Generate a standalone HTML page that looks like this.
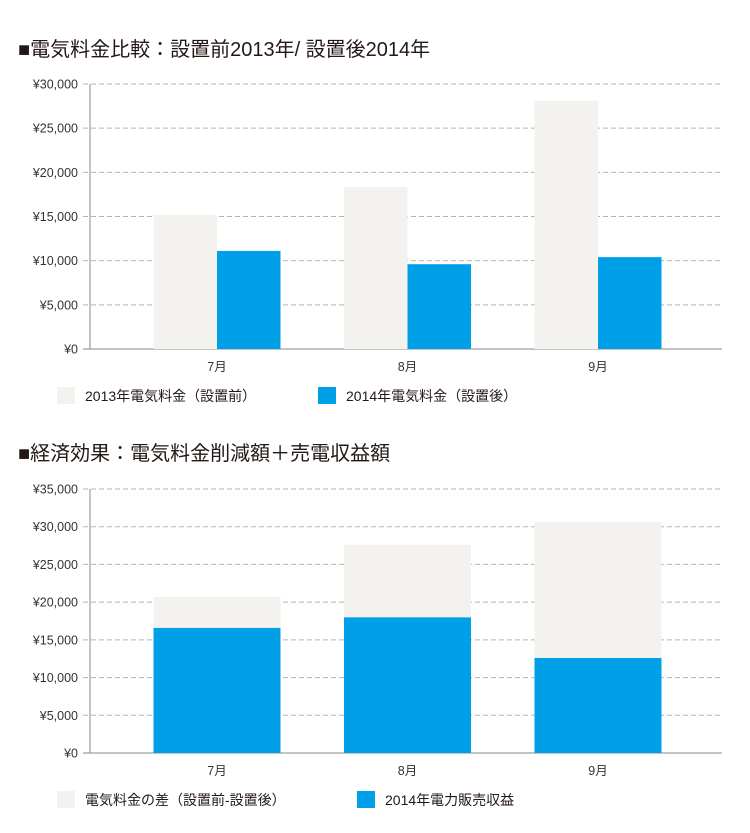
<!DOCTYPE html>
<html><head><meta charset="utf-8">
<style>
body{margin:0;background:#fff;width:750px;height:828px;overflow:hidden;font-family:"Liberation Sans","Noto Sans CJK JP",sans-serif;}
svg text{font-family:"Liberation Sans","Noto Sans CJK JP",sans-serif;}
</style></head><body>
<svg id="svg" width="750" height="828" viewBox="0 0 750 828"></svg>
<script>
const categories=["7月","8月","9月"];
const before2013=[15200,18350,28100];
const after2014=[11100,9600,10400];
const ticks1=[0,5000,10000,15000,20000,25000,30000];
const tickLabels1=["¥0","¥5,000","¥10,000","¥15,000","¥20,000","¥25,000","¥30,000"];
const savings=[4100,9600,18000];
const sales=[16600,18000,12600];
const ticks2=[0,5000,10000,15000,20000,25000,30000,35000];
const tickLabels2=["¥0","¥5,000","¥10,000","¥15,000","¥20,000","¥25,000","¥30,000","¥35,000"];

const svg=document.getElementById('svg');
const NS='http://www.w3.org/2000/svg';
function mk(tag,attrs,parent){const e=document.createElementNS(NS,tag);for(const k in attrs)e.setAttribute(k,attrs[k]);(parent||svg).appendChild(e);return e;}
const X0=90,X1=722;
const LIGHT='#f4f2ef',BLUE='#00a0e9';
const cxOf=i=>217+190.5*i;

function axes(g,y0,yTop,maxV,ticks,labels){
  const ys=v=>y0-(v/maxV)*(y0-yTop);
  ticks.forEach((t,i)=>{
    const y=ys(t);
    const ln=mk('line',{x1:83,x2:X1,y1:y,y2:y,stroke:t===0?'#888':'#b5b5b5','stroke-width':1,'stroke-dasharray':t===0?'':'5,3'},g);
    
    
    const tx=mk('text',{x:78,y:y+4.5,'text-anchor':'end','font-size':12.5,fill:'#333'},g);
    tx.textContent=labels[i];
    
    
  });
  const ax=mk('line',{x1:X0,x2:X0,y1:yTop,y2:y0,stroke:'#888','stroke-width':1},g);
  
  
  categories.forEach((c,i)=>{
    const t=mk('text',{x:cxOf(i),y:y0+22,'text-anchor':'middle','font-size':12.5,fill:'#333'},g);
    t.textContent=c;
    
    
  });
  return ys;
}
function title(txt,y){
  const t=mk('text',{x:18,y:y,'font-size':20,fill:'#231815'});
  t.textContent=txt;
  
  
}
function legend(x,y,color,txt){
  const r=mk('rect',{x:x,y:y,width:18,height:17,fill:color});
  
  
  const t=mk('text',{x:x+28,y:y+14,'font-size':14,fill:'#231815'});
  t.textContent=txt;
  
  
}

title('■電気料金比較：設置前2013年/ 設置後2014年',56);
const g1=mk('g',{});


const ys1=axes(g1,349,84,30000,ticks1,tickLabels1);
categories.forEach((c,i)=>{
  const cx=cxOf(i);
  const a=mk('rect',{x:cx-63.5,y:ys1(before2013[i]),width:63.5,height:349-ys1(before2013[i]),fill:LIGHT},g1);
  
  
  const b=mk('rect',{x:cx,y:ys1(after2014[i]),width:63.5,height:349-ys1(after2014[i]),fill:BLUE},g1);
  
  
});
legend(57,387,LIGHT,'2013年電気料金（設置前）');
legend(318,387,BLUE,'2014年電気料金（設置後）');

title('■経済効果：電気料金削減額＋売電収益額',460);
const g2=mk('g',{});


const ys2=axes(g2,753,489,35000,ticks2,tickLabels2);
categories.forEach((c,i)=>{
  const cx=cxOf(i);
  const b=mk('rect',{x:cx-63.5,y:ys2(sales[i]),width:127,height:753-ys2(sales[i]),fill:BLUE},g2);
  
  
  const top=ys2(sales[i]+savings[i]);
  const a=mk('rect',{x:cx-63.5,y:top,width:127,height:ys2(sales[i])-top,fill:LIGHT},g2);
  
  
});
legend(57,791,LIGHT,'電気料金の差（設置前-設置後）');
legend(357,791,BLUE,'2014年電力販売収益');
</script>
</body></html>
